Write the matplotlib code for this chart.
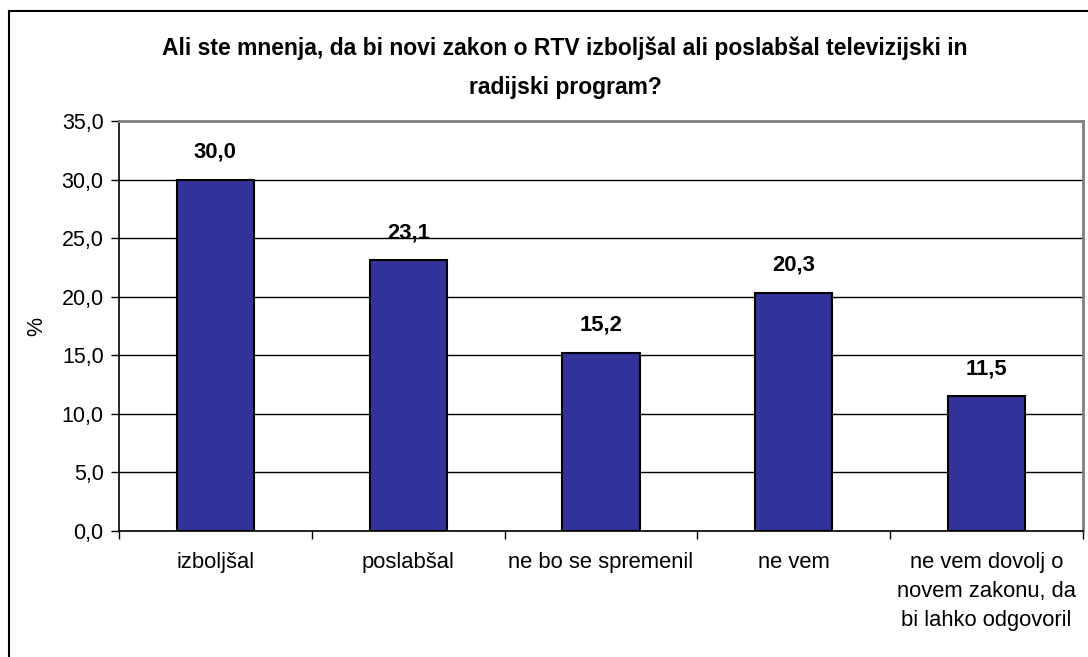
import matplotlib
matplotlib.use("Agg")
import matplotlib.pyplot as plt
from matplotlib.lines import Line2D
import numpy as np

categories = ["izboljšal", "poslabšal", "ne bo se spremenil", "ne vem",
              "ne vem dovolj o\nnovem zakonu, da\nbi lahko odgovoril"]
values = [30.0, 23.1, 15.2, 20.3, 11.5]
yticks = [0, 5, 10, 15, 20, 25, 30, 35]
title = "Ali ste mnenja, da bi novi zakon o RTV izboljšal ali poslabšal televizijski in\nradijski program?"

plt.rcParams['font.family'] = ['Liberation Sans', 'DejaVu Sans']

fig = plt.figure(figsize=(10.88, 6.57), dpi=100)
ax = fig.add_axes([119/1088, 1 - 531/657, (1083 - 119)/1088, (531 - 121)/657])

x = np.arange(len(categories))
ax.bar(x, values, width=0.4, color="#333399", edgecolor="black", linewidth=1.5, zorder=3)

for xi, v in zip(x, values):
    ax.annotate(f"{v:.1f}".replace(".", ","), (xi, v), xytext=(0, 20), textcoords="offset points",
                ha="center", va="center", fontsize=15.8, fontweight="bold")

ax.set_ylim(0, 35)
ax.set_xlim(-0.5, len(categories) - 0.5)
ax.set_yticks(yticks)
ax.set_yticklabels([f"{t:.1f}".replace(".", ",") for t in yticks], fontsize=15.5)
ax.yaxis.grid(True, color="black", linewidth=1.0, zorder=0)
ax.set_axisbelow(True)

ax.set_xticks(x)
ax.set_xticklabels(categories, fontsize=15.8, linespacing=1.5, va="top")
ax.tick_params(axis="x", length=0, pad=15)
ax.set_xticks(np.arange(-0.5, len(categories)), minor=True)
ax.tick_params(axis="x", which="minor", length=6, width=1, direction="out")
ax.tick_params(axis="y", length=6, width=1, direction="out", pad=5)

ax.spines["left"].set_color("black")
ax.spines["left"].set_linewidth(1.2)
ax.spines["bottom"].set_color("black")
ax.spines["bottom"].set_linewidth(1.2)
ax.spines["top"].set_color("#808080")
ax.spines["top"].set_linewidth(2)
ax.spines["right"].set_color("#808080")
ax.spines["right"].set_linewidth(2)

ax.set_ylabel("%", fontsize=15.5, labelpad=10)

fig.text(565/1088, 1 - 68/657, title, ha="center", va="center", fontsize=16.5,
         fontweight="bold", linespacing=1.9)

# outer chart frame (left and top edges visible)
fig.add_artist(Line2D([9/1088, 9/1088], [0, 1 - 11/657], color="black", linewidth=1.5,
                      transform=fig.transFigure))
fig.add_artist(Line2D([9/1088, 1], [1 - 11/657, 1 - 11/657], color="black", linewidth=1.5,
                      transform=fig.transFigure))

fig.savefig("out.png", dpi=100, facecolor="white")
